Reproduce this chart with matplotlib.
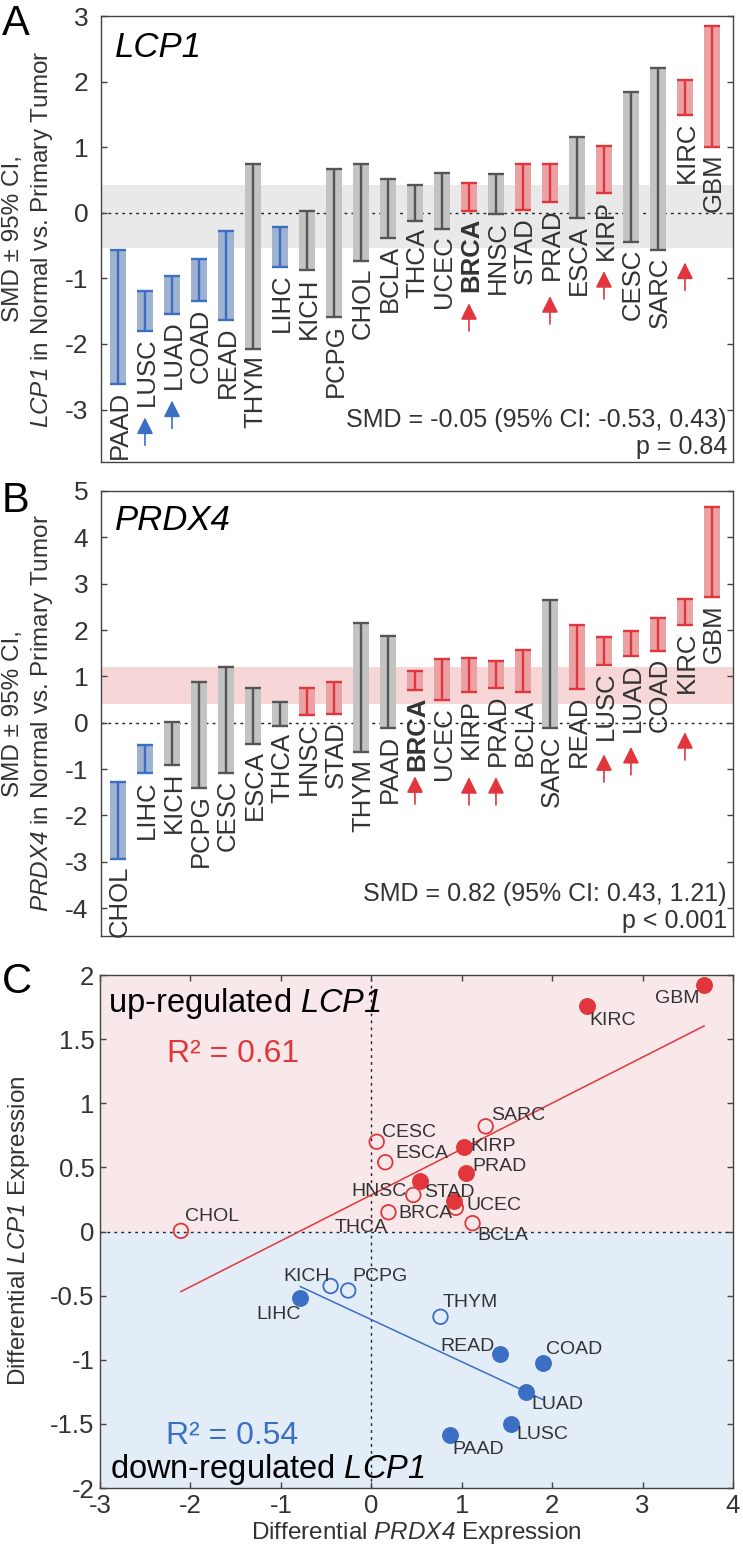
import matplotlib
matplotlib.use("Agg")
import numpy as np
import matplotlib.pyplot as plt
from matplotlib.text import OffsetFrom

plt.rcParams["font.family"] = ["Liberation Sans", "DejaVu Sans"]
plt.rcParams["mathtext.fontset"] = "custom"
plt.rcParams["mathtext.rm"] = "Liberation Sans:italic"
plt.rcParams["mathtext.it"] = "Liberation Sans:italic"
plt.rcParams["axes.unicode_minus"] = False

# ---- panel A: LCP1, SMD with 95% CI (normal vs primary tumor)
names_a = ["PAAD", "LUSC", "LUAD", "COAD", "READ", "THYM", "LIHC", "KICH", "PCPG", "CHOL",
           "BCLA", "THCA", "UCEC", "BRCA", "HNSC", "STAD", "PRAD", "ESCA", "KIRP", "CESC",
           "SARC", "KIRC", "GBM"]
high_a = [-0.57, -1.20, -0.97, -0.70, -0.28, 0.74, -0.22, 0.03, 0.67, 0.74,
          0.52, 0.43, 0.61, 0.45, 0.59, 0.74, 0.74, 1.16, 1.02, 1.84,
          2.21, 2.02, 2.84]
low_a = [-2.61, -1.80, -1.54, -1.35, -1.63, -2.07, -0.82, -0.88, -1.59, -0.73,
         -0.39, -0.13, -0.24, 0.03, -0.02, 0.04, 0.17, -0.08, 0.30, -0.44,
         -0.57, 1.49, 1.01]
group_a = ["down", "down", "down", "down", "down", "ns", "down", "ns", "ns", "ns",
           "ns", "ns", "ns", "up", "ns", "up", "up", "ns", "up", "ns",
           "ns", "up", "up"]
# arrows under these labels (extra gap below the label, points)
arrows_a = {"LUSC": 0, "LUAD": 0, "BRCA": 0, "PRAD": 3.6, "KIRP": 0, "KIRC": 49}
pooled_a = (-0.53, 0.43)
smd_text_a = "SMD = -0.05 (95% CI: -0.53, 0.43)"
p_text_a = "p = 0.84"

# ---- panel B: PRDX4
names_b = ["CHOL", "LIHC", "KICH", "PCPG", "CESC", "ESCA", "THCA", "HNSC", "STAD", "THYM",
           "PAAD", "BRCA", "UCEC", "KIRP", "PRAD", "BCLA", "SARC", "READ", "LUSC", "LUAD",
           "COAD", "KIRC", "GBM"]
high_b = [-1.27, -0.48, 0.01, 0.89, 1.20, 0.76, 0.45, 0.76, 0.89, 2.16,
          1.87, 1.12, 1.38, 1.40, 1.34, 1.58, 2.65, 2.11, 1.84, 1.99,
          2.25, 2.66, 4.65]
low_b = [-2.94, -1.09, -0.91, -1.40, -1.08, -0.45, -0.07, 0.17, 0.19, -0.63,
         -0.12, 0.71, 0.49, 0.66, 0.76, 0.66, -0.12, 0.73, 1.25, 1.44,
         1.55, 2.11, 2.71]
group_b = ["down", "down", "ns", "ns", "ns", "ns", "ns", "up", "up", "ns",
           "ns", "up", "up", "up", "up", "up", "ns", "up", "up", "up",
           "up", "up", "up"]
arrows_b = {"BRCA": -4.3, "KIRP": 5, "PRAD": 0, "LUSC": 2, "LUAD": 3, "KIRC": 20}
pooled_b = (0.40, 1.21)
smd_text_b = "SMD = 0.82 (95% CI: 0.43, 1.21)"
p_text_b = "p < 0.001"

# ---- panel C: filled = significant, open = not
filled_c = ["GBM", "KIRC", "KIRP", "PRAD", "STAD", "BRCA", "LIHC", "READ", "COAD",
            "LUAD", "LUSC", "PAAD"]

fill_col = {"down": "#9fb2cf", "ns": "#c3c3c3", "up": "#eaa2a5"}
line_col = {"down": "#3b6fc3", "ns": "#555555", "up": "#e1373c"}
RED = "#e1373c"
BLUE = "#3b6fc3"
TXT = "#333333"

fig = plt.figure(figsize=(7.43, 15.47), dpi=100)
W, H = 743.0, 1547.0


def px_axes(l, t, r, b):
    return fig.add_axes([l / W, 1 - b / H, (r - l) / W, (b - t) / H])


def style_axes(ax, fs):
    for s in ax.spines.values():
        s.set_color("#444444")
        s.set_linewidth(1.0)
    ax.tick_params(direction="in", length=4, width=1, colors="#444444",
                   labelcolor=TXT, labelsize=fs, right=True)


def forest(ax, names, low, high, group, arrows, pooled, band, ylim, smd_text, p_text):
    x = np.arange(1, len(names) + 1)
    ax.axhspan(pooled[0], pooled[1], color=band, lw=0, zorder=0)
    ax.axhline(0, color="#222222", lw=1.0, ls=(0, (2, 3)), zorder=1)
    for i, n in enumerate(names):
        g = group[i]
        ax.bar(x[i], high[i] - low[i], bottom=low[i], width=0.6, color=fill_col[g], lw=0, zorder=2)
        ax.vlines(x[i], low[i], high[i], color=line_col[g], lw=1.7, zorder=3)
        ax.hlines([low[i], high[i]], x[i] - 0.3, x[i] + 0.3, color=line_col[g], lw=1.7, zorder=3)
        t = ax.annotate(n, xy=(x[i], low[i]), xytext=(1.5, -5), textcoords="offset points",
                        rotation=90, ha="center", va="top", fontsize=18.5, color=TXT,
                        fontweight="bold" if n == "BRCA" else "normal", zorder=4)
        if n in arrows:
            gap = arrows[n]
            ref = OffsetFrom(t, (0.5, 0), "points")
            ax.annotate("", xy=(-1.5, -8 - gap), xycoords=ref, xytext=(-1.5, -28 - gap),
                        textcoords=ref,
                        arrowprops=dict(arrowstyle="-|>,head_length=1.0,head_width=0.5",
                                        color=line_col[g], lw=1.2, mutation_scale=10,
                                        shrinkA=0, shrinkB=0))
    ax.set_xlim(0.37, 23.78)
    ax.set_ylim(*ylim)
    ax.set_xticks([])
    ax.set_yticks(range(int(np.ceil(ylim[0])), int(ylim[1]) + 1))
    ax.text(0.9905, 0.078, smd_text, transform=ax.transAxes, ha="right", va="baseline",
            fontsize=18, color=TXT)
    ax.text(0.9905, 0.018, p_text, transform=ax.transAxes, ha="right", va="baseline",
            fontsize=18, color=TXT)


# panel A
axA = px_axes(101, 16, 733, 462)
forest(axA, names_a, low_a, high_a, group_a, arrows_a, pooled_a, "#e9e9e9", (-3.8, 3),
       smd_text_a, p_text_a)
style_axes(axA, 19)
axA.tick_params(axis="y", pad=9)
axA.text(0.022, 0.908, "LCP1", transform=axA.transAxes, fontsize=25, fontstyle="italic",
         va="baseline", color="black")

# panel B
axB = px_axes(101, 491, 733, 936)
forest(axB, names_b, low_b, high_b, group_b, arrows_b, pooled_b, "#f7d6d8", (-4.6, 5),
       smd_text_b, p_text_b)
style_axes(axB, 19)
axB.tick_params(axis="y", pad=9)
axB.text(0.022, 0.912, "PRDX4", transform=axB.transAxes, fontsize=25, fontstyle="italic",
         va="baseline", color="black")

# y labels for A and B (two lines each)
for top, bot, gene in [(16, 462, "LCP1"), (491, 936, "PRDX4")]:
    yc = 1 - (top + bot) / 2 / H
    fig.text(13 / W, yc, "SMD ± 95% CI,", rotation=90, ha="center", va="center",
             fontsize=17.5, color=TXT)
    fig.text(42 / W, yc, "$" + gene + "$ in Normal vs. Primary Tumor", rotation=90,
             ha="center", va="center", fontsize=17.5, color=TXT)

# panel C: scatter of the CI midpoints
mid_a = {n: (lo + hi) / 2 for n, lo, hi in zip(names_a, low_a, high_a)}
mid_b = {n: (lo + hi) / 2 for n, lo, hi in zip(names_b, low_b, high_b)}
names_c = names_a
xs = np.array([mid_b[n] for n in names_c])
ys = np.array([mid_a[n] for n in names_c])

label_pos = {
    "GBM": (-3, -10.2, "right"), "KIRC": (1.5, -10.2, "left"), "SARC": (3.6, 7.7, "left"),
    "KIRP": (4.3, 0, "left"), "PRAD": (4.3, 5.1, "left"), "STAD": (2.9, -7.7, "left"),
    "HNSC": (-5, 2.6, "right"), "UCEC": (7.6, 1.8, "left"), "BRCA": (-1, -9, "right"),
    "THCA": (-0.7, -11, "right"), "BCLA": (3.6, -9.2, "left"), "CESC": (3.6, 6.5, "left"),
    "ESCA": (7.4, 6.3, "left"), "CHOL": (2.6, 10.3, "left"), "KICH": (-0.7, 7, "right"),
    "PCPG": (3, 10.2, "left"), "LIHC": (0, -11.5, "right"), "THYM": (1.5, 10.3, "left"),
    "READ": (-3.7, 5.5, "right"), "COAD": (2.3, 9.4, "left"), "LUAD": (3.6, -8.7, "left"),
    "LUSC": (4, -7.5, "left"), "PAAD": (1.4, -10, "left"),
}

axC = px_axes(100, 975, 733, 1488)
axC.axhspan(0, 2, color="#f9e8e9", lw=0, zorder=0)
axC.axhspan(-2, 0, color="#e3edf8", lw=0, zorder=0)
axC.axhline(0, color="#222222", lw=1.0, ls=(0, (2, 3)), zorder=1)
axC.axvline(0, color="#222222", lw=1.0, ls=(0, (2, 3)), zorder=1)

up = ys > 0
for mask, col in [(up, RED), (~up, BLUE)]:
    k, b = np.polyfit(xs[mask], ys[mask], 1)
    xx = np.array([xs[mask].min(), xs[mask].max()])
    axC.plot(xx, k * xx + b, color=col, lw=1.1, zorder=2)

for n, x, y in zip(names_c, xs, ys):
    col = RED if y > 0 else BLUE
    if n in filled_c:
        axC.scatter(x, y, s=120, color=col, edgecolors=col, lw=1.2, zorder=3)
    else:
        axC.scatter(x, y, s=110, facecolors="none", edgecolors=col, lw=1.3, zorder=3)
    dx, dy, ha = label_pos[n]
    axC.annotate(n, xy=(x, y), xytext=(dx, dy), textcoords="offset points", ha=ha,
                 va="center", fontsize=14, color=TXT, zorder=4)

axC.set_xlim(-3, 4)
axC.set_ylim(-2, 2)
axC.set_xticks(range(-3, 5))
axC.set_yticks([-2, -1.5, -1, -0.5, 0, 0.5, 1, 1.5, 2])
axC.set_yticklabels(["-2", "-1.5", "-1", "-0.5", "0", "0.5", "1", "1.5", "2"])
style_axes(axC, 18.5)
axC.tick_params(top=True, pad=4)

axC.text(0.0126, 0.928, "up-regulated $LCP1$", transform=axC.transAxes, fontsize=23.5,
         va="baseline", color="black")
axC.text(0.106, 0.831, "R² = 0.61", transform=axC.transAxes, fontsize=23, va="baseline",
         color=RED)
axC.text(0.104, 0.086, "R² = 0.54", transform=axC.transAxes, fontsize=23, va="baseline",
         color=BLUE)
axC.text(0.016, 0.019, "down-regulated $LCP1$", transform=axC.transAxes, fontsize=23.5,
         va="baseline", color="black")

fig.text(19 / W, 1 - 1231 / H, "Differential $LCP1$ Expression", rotation=90, ha="center",
         va="center", fontsize=17.5, color=TXT)
fig.text(416.5 / W, 1 - 1533 / H, "Differential $PRDX4$ Expression", ha="center",
         va="center", fontsize=17.5, color=TXT)

# panel letters
for letter, top in [("A", 4), ("B", 481), ("C", 962)]:
    fig.text(2 / W, 1 - top / H, letter, fontsize=30, va="top", ha="left", color="black")

fig.savefig("out.png", dpi=100)
